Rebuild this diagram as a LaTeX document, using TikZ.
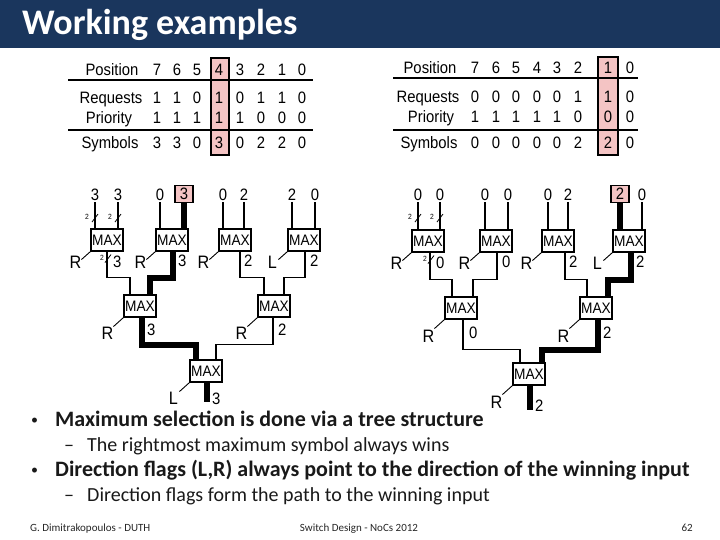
\documentclass[tikz,border=0pt]{standalone}
\usepackage{fontspec}
\setmainfont{Carlito}
\newfontfamily\arialf[FakeStretch=0.9]{Liberation Sans}
\definecolor{hdr}{HTML}{1A365D}
\definecolor{pinkhl}{HTML}{F4C4C4}
\begin{document}
\begin{tikzpicture}[x=1pt,y=-1pt,
  maxbox/.style={draw,line width=1.1pt,minimum width=32pt,minimum height=22pt,inner sep=0pt,fill=white,font=\arialf\fontsize{15.2}{16}\selectfont},
  leafn/.style={inner sep=1pt,font=\arialf\fontsize{16.5}{17}\selectfont},
  leafhl/.style={leafn,draw,fill=pinkhl,line width=1.2pt,minimum width=18pt,minimum height=17pt,inner sep=0pt},
  tl/.style={line width=1.4pt},
  tk/.style={line width=6pt},
  diag/.style={line width=0.9pt},
  sl/.style={line width=0.8pt},
  flag/.style={inner sep=0pt,font=\arialf\fontsize{18}{19}\selectfont},
  val/.style={anchor=west,inner sep=0pt,font=\arialf\fontsize{16.5}{17}\selectfont},
  smalltwo/.style={inner sep=0pt,font=\arialf\fontsize{7.5}{8}\selectfont},
  tabt/.style={anchor=base,inner sep=0pt,font=\arialf\fontsize{16.5}{17}\selectfont},
  rule/.style={line width=1.8pt},
  hlcol/.style={draw,fill=pinkhl,line width=1.5pt,inner sep=0pt},
  bul/.style={anchor=base west,inner sep=0pt,font=\fontsize{22}{26}\selectfont\bfseries,text=black!90},
  dot/.style={anchor=base west,inner sep=0pt,font=\fontsize{14}{16}\selectfont,text=black!90},
  sub/.style={anchor=base west,inner sep=0pt,font=\fontsize{20}{24}\selectfont,text=black!90},
  foot/.style={anchor=base,inner sep=0pt,font=\fontsize{11}{13}\selectfont,text=black!85}
]
\useasboundingbox (0,0) rectangle (720,540);
% header
\fill[hdr] (0,0) rectangle (720,48);
\node[anchor=base west,inner sep=0pt,text=white,font=\fontsize{36}{40}\selectfont\bfseries] (title) at (22,35) {Working examples};

% ---------------- left table ----------------
\node[hlcol,minimum width=18pt,minimum height=97pt] (lhl) at (220,106.5) {};
\draw[rule] (68,80) -- (313,80);
\draw[rule] (68,130) -- (313,130);
\node[tabt] (lpos) at (112,76) {Position};
\node[tabt] (lreq) at (111,104) {Requests};
\node[tabt] (lpri) at (109,124) {Priority};
\node[tabt] (lsym) at (110,149) {Symbols};
\foreach \x/\vp/\vr/\vq/\vs [count=\i] in {157/7/1/1/3,177/6/1/1/3,197/5/0/1/0,219/4/1/1/3,240/3/0/1/0,261/2/1/0/2,282/1/1/0/2,302/0/0/0/0}{
  \node[tabt] (lp\i) at (\x,76) {\vp};
  \node[tabt] (lr\i) at (\x,104) {\vr};
  \node[tabt] (lq\i) at (\x,124) {\vq};
  \node[tabt] (ls\i) at (\x,149) {\vs};
}

% ---------------- right table ----------------
\node[hlcol,minimum width=20pt,minimum height=98pt] (rhl) at (608,106) {};
\draw[rule] (393,78) -- (638,78);
\draw[rule] (393,130) -- (638,130);
\node[tabt] (rpos) at (430,74) {Position};
\node[tabt] (rreq) at (428,103) {Requests};
\node[tabt] (rpri) at (431,123) {Priority};
\node[tabt] (rsym) at (429,149) {Symbols};
\foreach \x/\vp/\vr/\vq/\vs [count=\i] in {475/7/0/1/0,496/6/0/1/0,516/5/0/1/0,537/4/0/1/0,557/3/0/1/0,578/2/1/0/2,608/1/1/0/2,630/0/0/0/0}{
  \node[tabt] (rp\i) at (\x,74) {\vp};
  \node[tabt] (rr\i) at (\x,103) {\vr};
  \node[tabt] (rq\i) at (\x,123) {\vq};
  \node[tabt] (rs\i) at (\x,149) {\vs};
}

% ---------------- left tree ----------------
\node[leafn] (a1) at (95,195) {3};
\node[leafn] (a2) at (118,195) {3};
\node[leafn] (a3) at (160,195) {0};
\node[leafhl] (a4) at (184,194) {3};
\node[leafn] (a5) at (223,195) {0};
\node[leafn] (a6) at (244,195) {2};
\node[leafn] (a7) at (292,195) {2};
\node[leafn] (a8) at (315,195) {0};
\node[maxbox] (A1) at (107,240) {MAX};
\node[maxbox] (A2) at (172,240) {MAX};
\node[maxbox] (A3) at (235,240) {MAX};
\node[maxbox] (A4) at (304,240) {MAX};
\node[maxbox] (B1) at (140,306) {MAX};
\node[maxbox] (B2) at (274,306) {MAX};
\node[maxbox] (C) at (206,371) {MAX};
\coordinate (A1o) at (A1.south);
\coordinate (A2o) at ([xshift=1pt]A2.south);
\coordinate (A3o) at ([xshift=5pt]A3.south);
\coordinate (A4o) at ([xshift=1pt]A4.south);
\coordinate (B1o) at ([xshift=2pt]B1.south);
\coordinate (B2o) at ([xshift=-1pt]B2.south);
\coordinate (Co) at ([xshift=1pt]C.south);
\coordinate (Cend) at (207,402);
\foreach \l/\b in {a1/A1,a2/A1,a3/A2,a5/A3,a6/A3,a7/A4,a8/A4}
  \draw[tl] (\l.south) -- (\l.south |- \b.north);
\draw[tk] (a4.south) -- (a4.south |- A2.north);
\draw[tl] (A1o) -- ++(0,26) -| ([xshift=-10pt]B1.north);
\draw[tk] (A2o) -- ++(0,26) -| ([xshift=10pt]B1.north);
\draw[tl] (A3o) -- ++(0,26) -| ([xshift=-10pt]B2.north);
\draw[tl] (A4o) -- ++(0,26) -| ([xshift=10pt]B2.north);
\draw[tk] (B1o) -- ++(0,27) -| ([xshift=-10pt]C.north);
\draw[tl] (B2o) -- ++(0,27) -| ([xshift=10pt]C.north);
\draw[tk] (Co) -- (Cend);
% width marks
\foreach \l in {a1,a2}{
  \draw[sl] ([shift={(-3,20)}]\l.south) -- ++(6,-8);
  \node[smalltwo] at ([shift={(-8,15)}]\l.south) {2};
}
\draw[sl] ([shift={(-2,11)}]A1o) -- ++(6,-8);
\node[smalltwo] at ([shift={(-5,6)}]A1o) {2};
% flags
\foreach \b/\f in {A1/R,A2/R,A3/R,A4/L}{
  \draw[diag] (\b.south west) -- ++(-9,8);
  \node[flag] at ([shift={(-15,11)}]\b.south west) {\f};
}
\foreach \b/\f in {B1/R,B2/R,C/L}{
  \draw[diag] (\b.south west) -- ++(-10,9);
  \node[flag] at ([shift={(-16,16)}]\b.south west) {\f};
}
% values
\node[val] at ([shift={(6,10)}]A1o) {3};
\node[val] at ([shift={(5,9)}]A2o) {3};
\node[val] at ([shift={(4,9)}]A3o) {2};
\node[val] at ([shift={(5,9)}]A4o) {2};
\node[val] at ([shift={(5,12)}]B1o) {3};
\node[val] at ([shift={(5,12)}]B2o) {2};
\node[val] at ([shift={(5,16)}]Co) {3};

% ---------------- right tree ----------------
\node[leafn] (b1) at (418,195) {0};
\node[leafn] (b2) at (440,195) {0};
\node[leafn] (b3) at (485,195) {0};
\node[leafn] (b4) at (508,195) {0};
\node[leafn] (b5) at (548,195) {0};
\node[leafn] (b6) at (568,195) {2};
\node[leafhl] (b7) at (620,194) {2};
\node[leafn] (b8) at (642,195) {0};
\node[maxbox] (D1) at (428,241) {MAX};
\node[maxbox] (D2) at (496,241) {MAX};
\node[maxbox] (D3) at (558,241) {MAX};
\node[maxbox] (D4) at (629,241) {MAX};
\node[maxbox] (E1) at (461,308) {MAX};
\node[maxbox] (E2) at (596,308) {MAX};
\node[maxbox] (F) at (529,374) {MAX};
\coordinate (D1o) at ([xshift=2pt]D1.south);
\coordinate (D2o) at ([xshift=1pt]D2.south);
\coordinate (D3o) at ([xshift=7pt]D3.south);
\coordinate (D4o) at ([xshift=2pt]D4.south);
\coordinate (E1o) at ([xshift=2pt]E1.south);
\coordinate (E2o) at ([xshift=2pt]E2.south);
\coordinate (Fo) at ([xshift=1pt]F.south);
\coordinate (Fend) at (530,410);
\foreach \l/\b in {b1/D1,b2/D1,b3/D2,b4/D2,b5/D3,b6/D3,b8/D4}
  \draw[tl] (\l.south) -- (\l.south |- \b.north);
\draw[tk] (b7.south) -- (b7.south |- D4.north);
\draw[tl] (D1o) -- ++(0,27) -| ([xshift=-9pt]E1.north);
\draw[tl] (D2o) -- ++(0,27) -| ([xshift=12pt]E1.north);
\draw[tl] (D3o) -- ++(0,27) -| ([xshift=-9pt]E2.north);
\draw[tk] (D4o) -- ++(0,27) -| ([xshift=12pt]E2.north);
\draw[tl] (E1o) -- ++(0,30) -| ([xshift=-9pt]F.north);
\draw[tk] (E2o) -- ++(0,30) -| ([xshift=13pt]F.north);
\draw[tk] (Fo) -- (Fend);
\foreach \l in {b1,b2}{
  \draw[sl] ([shift={(-3,20)}]\l.south) -- ++(6,-8);
  \node[smalltwo] at ([shift={(-8,15)}]\l.south) {2};
}
\draw[sl] ([shift={(-2,11)}]D1o) -- ++(6,-8);
\node[smalltwo] at ([shift={(-5,6)}]D1o) {2};
\foreach \b/\f in {D1/R,D2/R,D3/R,D4/L}{
  \draw[diag] (\b.south west) -- ++(-9,8);
  \node[flag] at ([shift={(-15,11)}]\b.south west) {\f};
}
\foreach \b/\f in {E1/R,E2/R,F/R}{
  \draw[diag] (\b.south west) -- ++(-10,9);
  \node[flag] at ([shift={(-16,17)}]\b.south west) {\f};
}
\node[val] at ([shift={(6,10)}]D1o) {0};
\node[val] at ([shift={(5,9)}]D2o) {0};
\node[val] at ([shift={(4,9)}]D3o) {2};
\node[val] at ([shift={(5,9)}]D4o) {2};
\node[val] at ([shift={(6,13)}]E1o) {0};
\node[val] at ([shift={(5,13)}]E2o) {2};
\node[val] at ([shift={(5,20)}]Fo) {2};

% ---------------- bullets ----------------
\node[dot] (d1) at (31,424) {•};
\node[bul] (t1) at (55,426) {Maximum selection is done via a tree structure};
\node[sub] (d2) at (64,451) {–};
\node[sub] (t2) at (87,451) {The rightmost maximum symbol always wins};
\node[dot] (d3) at (31,474) {•};
\node[bul] (t3) at (55,476) {Direction flags (L,R) always point to the direction of the winning input};
\node[sub] (d4) at (64,501) {–};
\node[sub] (t4) at (87,501) {Direction flags form the path to the winning input};

% ---------------- footer ----------------
\node[foot,anchor=base west] (f1) at (30,531) {G. Dimitrakopoulos - DUTH};
\node[foot] (f2) at (359,531) {Switch Design - NoCs 2012};
\node[foot,anchor=base east] (f3) at (693,531) {62};
\end{tikzpicture}
\end{document}
